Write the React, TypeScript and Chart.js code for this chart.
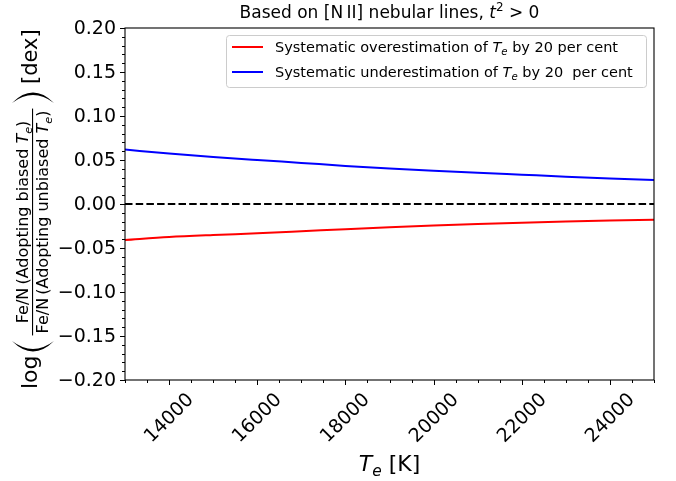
import { useEffect, useRef } from "react";
import { Chart, registerables } from "chart.js";

Chart.register(...registerables);

// ---------- data ----------
const temperatures = [13000, 14000, 15000, 16000, 17000, 18000, 19000, 20000, 21000, 22000, 23000, 24000, 25000];
const overestimation = [-0.041, -0.0375, -0.0352, -0.0333, -0.031, -0.0286, -0.0264, -0.0245, -0.0228, -0.0213, -0.02, -0.0188, -0.0178];
const underestimation = [0.0618, 0.0575, 0.0535, 0.05, 0.0467, 0.0433, 0.0403, 0.0378, 0.0355, 0.0333, 0.0311, 0.0291, 0.0273];
const referenceX = [13000, 25000];
const referenceY = [0, 0];

const xTickLabels = ["14000", "16000", "18000", "20000", "22000", "24000"];
const xMinorTicks = [13000, 13500, 14000, 14500, 15000, 15500, 16000, 16500, 17000, 17500, 18000, 18500, 19000, 19500, 20000, 20500, 21000, 21500, 22000, 22500, 23000, 23500, 24000, 24500, 25000];
const yTickLabels = ["\u22120.20", "\u22120.15", "\u22120.10", "\u22120.05", "0.00", "0.05", "0.10", "0.15", "0.20"];
const yMinorTicks = [-0.2, -0.19, -0.18, -0.17, -0.16, -0.15, -0.14, -0.13, -0.12, -0.11, -0.1, -0.09, -0.08, -0.07, -0.06, -0.05, -0.04, -0.03, -0.02, -0.01, 0, 0.01, 0.02, 0.03, 0.04, 0.05, 0.06, 0.07, 0.08, 0.09, 0.1, 0.11, 0.12, 0.13, 0.14, 0.15, 0.16, 0.17, 0.18, 0.19, 0.2];

const seriesLabels = ["Systematic overestimation of ", "Systematic underestimation of "];
const seriesTails = [" by 20 per cent", " by 20  per cent"];
const seriesColors = ["#ff0000", "#0000ff"];

// ---------- text helpers ----------
const FAMILY = '"DejaVu Sans"';
const fnt = (size: number, italic = false) => `${italic ? "italic " : ""}${size}px ${FAMILY}`;

type Run = { t: string; it?: boolean; sc?: number; dy?: number };

function runsWidth(ctx: CanvasRenderingContext2D, runs: Run[], size: number) {
  let w = 0;
  for (const r of runs) {
    ctx.font = fnt(size * (r.sc ?? 1), r.it);
    w += ctx.measureText(r.t).width;
  }
  return w;
}

function drawRuns(ctx: CanvasRenderingContext2D, runs: Run[], x: number, y: number, size: number) {
  let cx = x;
  ctx.textBaseline = "alphabetic";
  ctx.textAlign = "left";
  for (const r of runs) {
    ctx.font = fnt(size * (r.sc ?? 1), r.it);
    ctx.fillText(r.t, cx, y + (r.dy ?? 0) * size);
    cx += ctx.measureText(r.t).width;
  }
  return cx;
}

function paren(ctx: CanvasRenderingContext2D, u0: number, u1: number, v0: number, v1: number, open: boolean) {
  // drawn in rotated frame: u along the text, v across it
  const vm = (v0 + v1) / 2;
  const w = u1 - u0;
  ctx.beginPath();
  if (open) {
    ctx.moveTo(u1, v0);
    ctx.quadraticCurveTo(u0 - w * 0.9, vm, u1, v1);
    ctx.quadraticCurveTo(u0 - w * 0.45, vm, u1, v0);
  } else {
    ctx.moveTo(u0, v0);
    ctx.quadraticCurveTo(u1 + w * 0.9, vm, u0, v1);
    ctx.quadraticCurveTo(u1 + w * 0.45, vm, u0, v0);
  }
  ctx.fill();
}

const decor = {
  id: "decor",
  afterDraw(chart: any) {
    const { ctx, chartArea: a, scales } = chart;
    const xs = scales.x;
    const ys = scales.y;
    ctx.save();
    ctx.fillStyle = "#000";
    ctx.strokeStyle = "#000";

    // frame
    ctx.lineWidth = 1.1;
    ctx.strokeRect(a.left, a.top, a.right - a.left, a.bottom - a.top);

    // y ticks
    ctx.lineWidth = 1;
    for (const v of yMinorTicks) {
      const py = Math.round(ys.getPixelForValue(v)) + 0.5;
      ctx.beginPath();
      ctx.moveTo(a.left - 3, py);
      ctx.lineTo(a.left, py);
      ctx.stroke();
    }
    ctx.font = fnt(19);
    ctx.textAlign = "right";
    ctx.textBaseline = "middle";
    for (const lab of yTickLabels) {
      const v = parseFloat(lab.replace("\u2212", "-"));
      const py = Math.round(ys.getPixelForValue(v)) + 0.5;
      ctx.beginPath();
      ctx.moveTo(a.left - 5, py);
      ctx.lineTo(a.left, py);
      ctx.stroke();
      ctx.fillText(lab, a.left - 9, py + 1);
    }

    // x ticks
    for (const v of xMinorTicks) {
      const px = Math.round(xs.getPixelForValue(v)) + 0.5;
      ctx.beginPath();
      ctx.moveTo(px, a.bottom);
      ctx.lineTo(px, a.bottom + 3);
      ctx.stroke();
    }
    for (const lab of xTickLabels) {
      const v = parseFloat(lab);
      const px = Math.round(xs.getPixelForValue(v)) + 0.5;
      ctx.beginPath();
      ctx.moveTo(px, a.bottom);
      ctx.lineTo(px, a.bottom + 5);
      ctx.stroke();
      ctx.font = fnt(19);
      const w = ctx.measureText(lab).width;
      const h = 19 * 1.05;
      const bb = (w + h) * Math.SQRT1_2;
      ctx.save();
      ctx.translate(px, a.bottom + 10 + bb / 2);
      ctx.rotate(-Math.PI / 4);
      ctx.textAlign = "center";
      ctx.textBaseline = "middle";
      ctx.fillText(lab, 0, 0);
      ctx.restore();
    }

    // title
    const titleRuns: Run[] = [
      { t: "Based on [N\u2009II] nebular lines, " },
      { t: "t", it: true },
      { t: "2", sc: 0.7, dy: -0.4 },
      { t: " > 0" },
    ];
    const tw = runsWidth(ctx, titleRuns, 17);
    drawRuns(ctx, titleRuns, (a.left + a.right) / 2 - tw / 2, 18, 17);

    // x label
    const xlRuns: Run[] = [
      { t: "T", it: true },
      { t: "e", it: true, sc: 0.7, dy: 0.22 },
      { t: " [K]" },
    ];
    const xw = runsWidth(ctx, xlRuns, 22);
    drawRuns(ctx, xlRuns, (a.left + a.right) / 2 - xw / 2, 471, 22);

    // y label (rotated): u = -screenY, v = screenX
    ctx.save();
    ctx.rotate(-Math.PI / 2);
    drawRuns(ctx, [{ t: "log" }], -389, 37, 22);
    paren(ctx, -352, -341, 12, 54, true);
    const fs = 16;
    const num: Run[] = [
      { t: "Fe/N\u2009(Adopting biased " },
      { t: "T", it: true },
      { t: "e", it: true, sc: 0.7, dy: 0.22 },
      { t: ")" },
    ];
    const den: Run[] = [
      { t: "Fe/N\u2009(Adopting unbiased " },
      { t: "T", it: true },
      { t: "e", it: true, sc: 0.7, dy: 0.22 },
      { t: ")" },
    ];
    const nw = runsWidth(ctx, num, fs);
    const dw = runsWidth(ctx, den, fs);
    const fc = -222;
    const bw = Math.max(nw, dw) + 4;
    ctx.fillRect(fc - bw / 2, 32, bw, 1.1);
    drawRuns(ctx, num, fc - nw / 2, 28, fs);
    drawRuns(ctx, den, fc - dw / 2, 48, fs);
    paren(ctx, -103, -92, 12, 54, false);
    drawRuns(ctx, [{ t: "[dex]" }], -84, 37, 21);
    ctx.restore();

    // legend
    const lx0 = 226, ly0 = 35, lx1 = 646, ly1 = 87;
    ctx.beginPath();
    ctx.roundRect(lx0 + 0.5, ly0 + 0.5, lx1 - lx0, ly1 - ly0, 3);
    ctx.fillStyle = "rgba(255,255,255,0.8)";
    ctx.fill();
    ctx.strokeStyle = "#cccccc";
    ctx.lineWidth = 1;
    ctx.stroke();
    const rows = [47, 72];
    for (let i = 0; i < 2; i++) {
      ctx.strokeStyle = seriesColors[i];
      ctx.lineWidth = 2;
      ctx.beginPath();
      ctx.moveTo(232, rows[i]);
      ctx.lineTo(263, rows[i]);
      ctx.stroke();
      ctx.fillStyle = "#000";
      drawRuns(
        ctx,
        [
          { t: seriesLabels[i] },
          { t: "T", it: true },
          { t: "e", it: true, sc: 0.7, dy: 0.22 },
          { t: seriesTails[i] },
        ],
        275,
        rows[i] + 5,
        14.5
      );
    }
    ctx.restore();
  },
};

export default function App() {
  const ref = useRef<HTMLCanvasElement | null>(null);
  useEffect(() => {
    if (!ref.current) return;
    const chart = new Chart(ref.current, {
      type: "line",
      data: {
        datasets: [
          {
            label: seriesLabels[0],
            data: temperatures.map((t, i) => ({ x: t, y: overestimation[i] })),
            borderColor: seriesColors[0],
            borderWidth: 2,
            pointRadius: 0,
            cubicInterpolationMode: "monotone",
          },
          {
            label: seriesLabels[1],
            data: temperatures.map((t, i) => ({ x: t, y: underestimation[i] })),
            borderColor: seriesColors[1],
            borderWidth: 2,
            pointRadius: 0,
            cubicInterpolationMode: "monotone",
          },
          {
            label: "zero",
            data: referenceX.map((t, i) => ({ x: t, y: referenceY[i] })),
            borderColor: "#000000",
            borderWidth: 2,
            borderDash: [7.5, 3.2],
            pointRadius: 0,
          },
        ],
      },
      options: {
        responsive: false,
        animation: false,
        devicePixelRatio: 1,
        layout: { padding: { left: 125, top: 28, right: 22, bottom: 101 } },
        scales: {
          x: { type: "linear", min: 13000, max: 25000, display: false },
          y: { type: "linear", min: -0.2, max: 0.2, display: false },
        },
        plugins: {
          legend: { display: false },
          title: { display: false },
          tooltip: { enabled: false },
        },
      },
      plugins: [decor],
    } as any);
    return () => chart.destroy();
  }, []);
  return (
    <div style={{ position: "fixed", left: 0, top: 0, width: 676, height: 481, background: "#fff" }}>
      <canvas ref={ref} width={676} height={481} style={{ display: "block" }} />
    </div>
  );
}
